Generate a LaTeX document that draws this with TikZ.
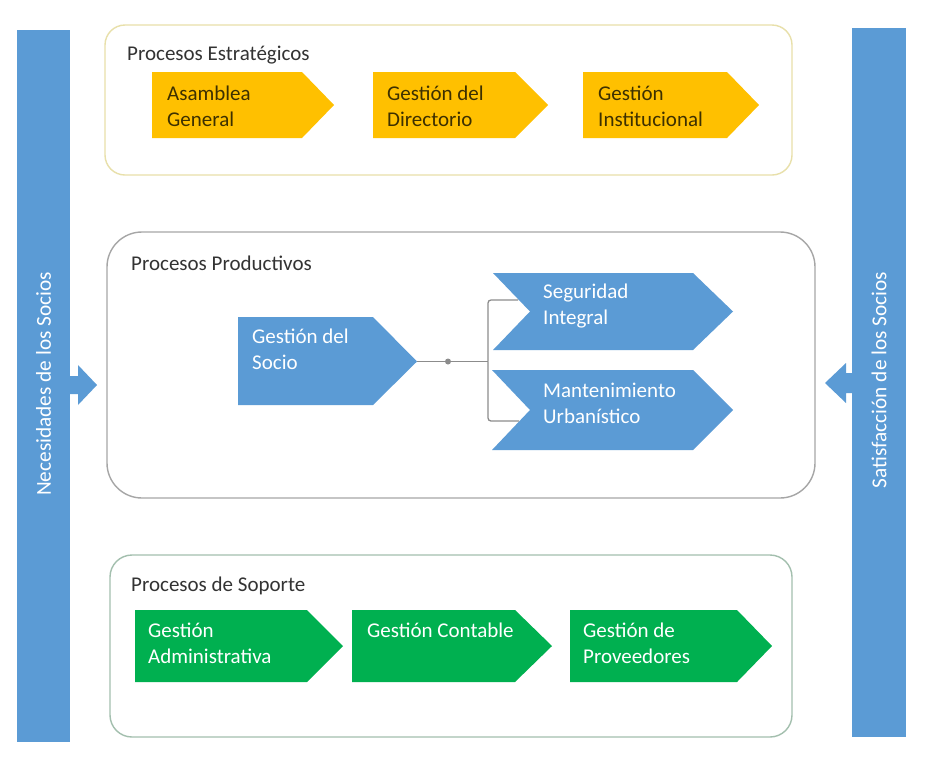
\documentclass[tikz,border=0pt]{standalone}
\usepackage{fontspec}
\setmainfont{Carlito}
\definecolor{barblue}{HTML}{5B9BD5}
\definecolor{yel}{HTML}{FFC000}
\definecolor{grn}{HTML}{00B050}
\definecolor{yelborder}{HTML}{E8E0AA}
\definecolor{grayborder}{HTML}{A6A6A6}
\definecolor{grnborder}{HTML}{A3BFAE}
\definecolor{titlecol}{HTML}{333333}
\definecolor{darktext}{HTML}{3D3000}
\definecolor{conncol}{HTML}{8C8C8C}
\begin{document}
\begin{tikzpicture}[x=1pt,y=-1pt,
  lbl/.style={anchor=north west,inner sep=0pt,align=left,font=\fontsize{21}{26}\selectfont},
  darklbl/.style={lbl,text=darktext},
  whitelbl/.style={lbl,text=white},
  titlelbl/.style={lbl,text=titlecol},
  bartext/.style={rotate=90,inner sep=0pt,text=white,font=\fontsize{21.3}{26}\selectfont},
  groupbox/.style={line width=1.4pt,fill=white},
  conn/.style={draw=conncol,line width=1.3pt},
  jdotstyle/.style={circle,fill=conncol,inner sep=0pt,minimum size=6pt}]
\useasboundingbox (0,0) rectangle (939,764);
\fill[white] (0,0) rectangle (939,764);

% side bars
\fill[barblue] (17,30) rectangle (70,742);
\fill[barblue] (852,28) rectangle (906,737);
\node[bartext] (needs) at (43.5,384) {Necesidades de los Socios};
\node[bartext] (satis) at (879,380) {Satisfacción de los Socios};
\fill[barblue] (70,376) -- (78,376) -- (78,365) -- (97,385) -- (78,405) -- (78,394) -- (70,394) -- cycle;
\fill[barblue] (853,373) -- (846,373) -- (846,363) -- (825,383) -- (846,403) -- (846,393) -- (853,393) -- cycle;

% group boxes
\draw[groupbox,draw=yelborder,rounded corners=20pt] (105,25) rectangle (792,175);
\draw[groupbox,draw=grayborder,rounded corners=35pt] (107,232) rectangle (815,498);
\draw[groupbox,draw=grnborder,rounded corners=22pt] (110,555) rectangle (792,737);

\node[titlelbl] (tEst) at (127,41.8) {\strut Procesos Estratégicos};
\node[titlelbl] (tProd) at (131,251.8) {\strut Procesos Productivos};
\node[titlelbl] (tSop) at (131,572.8) {\strut Procesos de Soporte};

% strategic (yellow)
\fill[yel] (152,72) -- (302,72) -- (334,105) -- (302,138) -- (152,138) -- cycle;
\fill[yel] (373,72) -- (515,72) -- (548,105) -- (515,138) -- (373,138) -- cycle;
\fill[yel] (583,72) -- (727,72) -- (759,105) -- (727,138) -- (583,138) -- cycle;
\node[darklbl] (asamblea) at (167,81.8) {\strut Asamblea\\General};
\node[darklbl] (directorio) at (387,81.8) {\strut Gestión del\\Directorio};
\node[darklbl] (instit) at (598,81.8) {\strut Gestión\\Institucional};

% productive (blue)
\fill[barblue] (238,317) -- (373,317) -- (417,361.5) -- (373,405) -- (238,405) -- cycle;
\fill[barblue] (493,273) -- (693,273) -- (733,311.5) -- (693,350) -- (493,350) -- (530,311.5) -- cycle;
\fill[barblue] (492,370) -- (693,370) -- (733,410) -- (693,450) -- (492,450) -- (530,410) -- cycle;
\node[whitelbl] (socio) at (252,324.8) {\strut Gestión del\\Socio};
\node[whitelbl] (seguridad) at (543,279.8) {\strut Seguridad\\Integral};
\node[whitelbl] (manten) at (543,378.8) {\strut Mantenimiento\\Urbanístico};

\coordinate (socioTip) at (417,361.5);
\node[jdotstyle] (jdot) at (448,361.5) {};
\coordinate (junc) at (488,361.5);
\coordinate (segIn) at (518,300);
\coordinate (manIn) at (519,421);
\draw[conn] (socioTip) -- (jdot) -- (junc);
\draw[conn,rounded corners=3pt] (junc) |- (segIn);
\draw[conn,rounded corners=3pt] (junc) |- (manIn);

% support (green)
\fill[grn] (135,610) -- (307,610) -- (343,646) -- (307,682) -- (135,682) -- cycle;
\fill[grn] (352,610) -- (515,610) -- (552,646) -- (515,682) -- (352,682) -- cycle;
\fill[grn] (570,610) -- (737,610) -- (772,646) -- (737,682) -- (570,682) -- cycle;
\node[whitelbl] (admin) at (148,618.8) {\strut Gestión\\Administrativa};
\node[whitelbl] (contable) at (367,618.8) {\strut Gestión Contable};
\node[whitelbl] (prov) at (583,618.8) {\strut Gestión de\\Proveedores};
\end{tikzpicture}
\end{document}
